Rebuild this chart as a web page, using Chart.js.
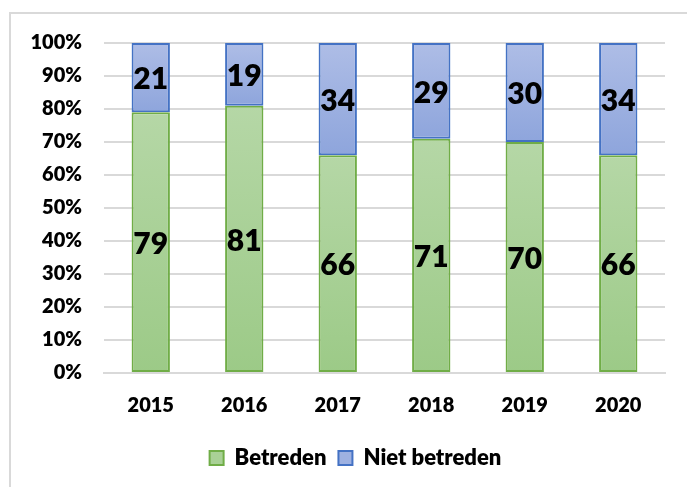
<!DOCTYPE html>
<html>
<head>
<meta charset="utf-8">
<script src="https://cdn.jsdelivr.net/npm/chart.js@4/dist/chart.umd.min.js"></script>
<style>
html,body{margin:0;padding:0;background:#fff;}
#wrap{width:687px;height:487px;}
</style>
</head>
<body>
<div id="wrap"><canvas id="c" width="687" height="487"></canvas></div>
<script>
const years = ['2015','2016','2017','2018','2019','2020'];
const betreden = [79, 81, 66, 71, 70, 66];
const nietBetreden = [21, 19, 34, 29, 30, 34];
const yTicks = [0,10,20,30,40,50,60,70,80,90,100];

const FONT = 'Lato, "Open Sans", sans-serif';
const W = 800;

function segGradient(ctx, top, bottom, c1, c2, fallback) {
  const chart = ctx.chart;
  if (!chart.chartArea || ctx.type !== 'data') return fallback;
  const ys = chart.scales.y;
  const y0 = ys.getPixelForValue(top);
  const y1 = ys.getPixelForValue(bottom);
  if (!isFinite(y0) || !isFinite(y1) || y0 === y1) return fallback;
  const g = chart.ctx.createLinearGradient(0, y0, 0, y1);
  g.addColorStop(0, c1);
  g.addColorStop(1, c2);
  return g;
}

const framePlugin = {
  id: 'frame',
  beforeDraw(chart) {
    const c = chart.ctx;
    c.save();
    c.fillStyle = '#ffffff';
    c.fillRect(0, 0, chart.width, chart.height);
    c.strokeStyle = '#d9d9d9';
    c.lineWidth = 2;
    c.strokeRect(10, 13, chart.width + 20, chart.height + 20);
    c.restore();
  },
  afterLayout(chart) {
    if (chart.legend) {
      chart.legend.left += 23;
      chart.legend.right += 23;
    }
  }
};

const labelPlugin = {
  id: 'barLabels',
  afterDatasetsDraw(chart) {
    const c = chart.ctx;
    c.save();
    c.font = W + ' 30px ' + FONT;
    c.fillStyle = '#000000';
    c.textAlign = 'center';
    c.textBaseline = 'middle';
    chart.data.datasets.forEach((ds, di) => {
      const meta = chart.getDatasetMeta(di);
      meta.data.forEach((el, i) => {
        const p = el.getProps(['x', 'y', 'base'], true);
        c.fillText(String(ds.data[i]), p.x, (p.y + p.base) / 2 + 2);
      });
    });
    c.restore();
  }
};

new Chart(document.getElementById('c'), {
  type: 'bar',
  data: {
    labels: years,
    datasets: [
      {
        label: 'Betreden',
        data: betreden,
        backgroundColor: (ctx) => segGradient(ctx, betreden[ctx.dataIndex], 0, '#b5d7a6', '#9cca87', '#a9d196'),
        borderColor: '#70ad47',
        borderWidth: 2,
        borderSkipped: false,
        barPercentage: 0.41,
        categoryPercentage: 1.0
      },
      {
        label: 'Niet betreden',
        data: nietBetreden,
        backgroundColor: (ctx) => segGradient(ctx, 100, betreden[ctx.dataIndex], '#aebde6', '#8ea5dc', '#9eb1e1'),
        borderColor: '#4472c4',
        borderWidth: 2,
        borderSkipped: false,
        barPercentage: 0.41,
        categoryPercentage: 1.0
      }
    ]
  },
  options: {
    responsive: false,
    animation: false,
    devicePixelRatio: 1,
    layout: { padding: { top: 43, left: 0, right: 22, bottom: 8 } },
    scales: {
      x: {
        stacked: true,
        grid: { display: false, drawTicks: false },
        border: { display: true, color: '#d9d9d9', width: 2 },
        ticks: { color: '#000', font: { family: FONT, size: 20, weight: W }, padding: 21 },
        afterFit(s) { s.height = 62; }
      },
      y: {
        stacked: true,
        min: 0,
        max: 100,
        afterBuildTicks(s) { s.ticks = yTicks.map(v => ({ value: v })); },
        grid: { color: '#d9d9d9', lineWidth: 2, drawTicks: false },
        border: { display: false },
        ticks: {
          color: '#000',
          font: { family: FONT, size: 20, weight: W },
          padding: 22,
          callback: (v) => v + '%'
        },
        afterFit(s) { s.width = 104; }
      }
    },
    plugins: {
      legend: {
        position: 'bottom',
        labels: {
          color: '#000',
          font: { family: FONT, size: 22, weight: W },
          boxWidth: 14,
          boxHeight: 14,
          padding: 12,
          generateLabels(chart) {
            const cols = [['#a9d196', '#70ad47'], ['#9eb1e1', '#4472c4']];
            return chart.data.datasets.map((ds, i) => ({
              text: ds.label,
              fillStyle: cols[i][0],
              strokeStyle: cols[i][1],
              lineWidth: 2,
              fontColor: '#000',
              hidden: !chart.isDatasetVisible(i),
              datasetIndex: i
            }));
          }
        }
      },
      tooltip: { enabled: false }
    }
  },
  plugins: [framePlugin, labelPlugin]
});
</script>
</body>
</html>
